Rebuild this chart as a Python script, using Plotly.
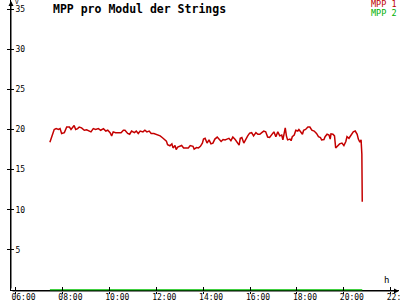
import plotly.graph_objects as go

day = "2024-06-01 "
times = ["07:28","07:34","07:39","07:44","07:50","07:54","07:58","08:05","08:11","08:18",
         "08:22","08:30","08:34","08:39","08:43","08:49","08:56","09:02","09:09","09:13",
         "09:19","09:25","09:32","09:38","09:45","09:51","09:56","10:02","10:06","10:10",
         "10:16","10:23","10:30","10:36","10:40","10:47","10:52","10:57","11:04","11:09",
         "11:14","11:19","11:26","11:31","11:36","11:42","11:47","11:54","12:00","12:05",
         "12:10","12:16","12:21","12:26","12:29","12:35","12:40","12:43","12:48","12:51",
         "12:55","13:00","13:05","13:10","13:17","13:22","13:27","13:34","13:37","13:43",
         "13:48","13:53","13:58","14:01","14:05","14:10","14:15","14:20","14:25","14:30",
         "14:36","14:41","14:46","14:51","14:56","15:01","15:06","15:11","15:16","15:22",
         "15:27","15:32","15:35","15:39","15:44","15:49","15:54","15:59","16:04","16:09",
         "16:15","16:20","16:25","16:30","16:35","16:40","16:45","16:50","16:55","17:01",
         "17:06","17:11","17:16","17:21","17:24","17:28","17:30","17:33","17:36","17:42",
         "17:45","17:48","17:53","17:57","18:02","18:05","18:09","18:14","18:17","18:22",
         "18:28","18:33","18:38","18:44","18:50","18:55","19:00","19:03","19:09","19:12",
         "19:17","19:22","19:25","19:27","19:32","19:36","19:39","19:44","19:49","19:55",
         "20:00","20:05","20:08","20:13","20:18","20:24","20:29","20:34","20:37","20:41",
         "20:44","20:46","20:47"]
mpp1 = [18.4,19.3,20.0,20.1,20.0,20.1,19.5,19.6,20.3,20.3,
        20.0,20.5,20.0,20.1,20.3,20.2,19.9,19.95,19.85,19.7,
        20.1,20.0,20.1,19.9,20.1,19.8,19.9,19.6,19.2,19.7,
        19.6,19.6,19.6,19.9,19.9,19.5,19.4,19.8,19.6,19.8,
        19.5,19.8,19.7,19.9,19.7,19.8,19.5,19.5,19.4,19.3,
        19.2,18.97,18.7,18.55,18.1,17.97,18.2,17.7,18.0,17.5,
        17.8,17.9,18.0,17.7,17.7,17.7,18.0,17.9,17.55,17.75,
        17.7,17.9,18.3,18.8,18.9,18.3,18.7,18.2,18.3,18.8,
        19.05,18.8,18.5,18.75,18.7,18.8,18.9,18.6,19.05,18.75,
        18.4,18.05,18.9,19.0,18.3,18.8,19.2,19.55,19.6,19.2,
        19.6,19.4,19.4,19.6,19.8,19.7,19.05,19.0,19.4,19.7,
        19.1,19.7,19.2,19.3,18.7,20.1,20.2,19.2,18.7,18.8,
        18.6,19.1,19.3,19.9,19.8,20.0,19.7,19.4,19.9,20.0,
        20.3,20.3,19.9,19.8,19.5,19.1,19.0,18.7,18.75,19.1,
        19.4,19.3,18.8,19.45,19.4,19.2,17.7,18.0,18.2,18.3,
        18.0,18.5,19.1,18.9,19.2,19.7,19.8,19.4,18.8,18.4,
        18.7,16.9,11.0]
mpp2 = [0.0 for _ in times]

x_range = [day + "05:48:30", day + "22:21:00"]
y_range = [-0.125, 36.125]
tick_vals = [day + h for h in ["06:00","08:00","10:00","12:00","14:00","16:00","18:00","20:00","22:00"]]
y_ticks = [5, 10, 15, 20, 25, 30, 35]

FONT = "DejaVu Sans Mono"
RED = "#c40000"
GREEN = "#00c000"

xs = [day + t for t in times]

fig = go.Figure()
fig.add_trace(go.Scatter(x=xs, y=mpp2, mode="lines", line=dict(color=GREEN, width=1.5),
                         xaxis="x2", yaxis="y2", showlegend=False, hoverinfo="skip"))
fig.add_trace(go.Scatter(x=xs, y=mpp1, mode="lines", line=dict(color=RED, width=1.5),
                         showlegend=False))

common_x = dict(type="date", range=x_range, tickvals=tick_vals, showgrid=False, zeroline=False,
                automargin=False)
common_y = dict(range=y_range, tickvals=y_ticks, showgrid=False, automargin=False)

fig.update_layout(
    width=400, height=300,
    margin=dict(l=11, r=1, t=0, b=9, autoexpand=False),
    paper_bgcolor="white", plot_bgcolor="white",
    xaxis=dict(**common_x, tickformat="%H:%M", ticks="inside", ticklen=4, tickcolor="black",
               showline=False, ticklabelshift=8, ticklabelstandoff=0,
               ticklabeloverflow="allow",
               tickfont=dict(family=FONT, size=8, color="black")),
    xaxis2=dict(**common_x, overlaying="x", showticklabels=False, ticks="outside", ticklen=2,
                tickcolor="black", showline=False),
    yaxis=dict(**common_y, zeroline=True, zerolinecolor="black", zerolinewidth=1,
               showline=True, linecolor="black", linewidth=1, ticks="outside", ticklen=3,
               tickcolor="black", ticklabelposition="inside", ticklabeloverflow="allow",
               ticklabelstandoff=3,
               tickfont=dict(family=FONT, size=8, color="black")),
    yaxis2=dict(**common_y, overlaying="y", zeroline=False, showticklabels=False,
                ticks="inside", ticklen=3, tickcolor="black", side="left"),
    annotations=[
        dict(text="<b>MPP pro Modul der Strings</b>", xref="paper", yref="paper", x=40/388, y=1.0,
             xanchor="left", yanchor="top", showarrow=False, yshift=0,
             font=dict(family=FONT, size=11.5, color="black")),
        dict(text="MPP 1", xref="paper", yref="paper", x=1.0, y=1.0, xanchor="right", yanchor="top",
             showarrow=False, font=dict(family=FONT, size=8.5, color="#c00000"), yshift=3),
        dict(text="MPP 2", xref="paper", yref="paper", x=1.0, y=1.0, xanchor="right", yanchor="top",
             showarrow=False, font=dict(family=FONT, size=8.5, color="#00b000"), yshift=-6),
        dict(text="V", xref="paper", yref="paper", x=0.0, y=1.0, xanchor="left", yanchor="top",
             showarrow=False, xshift=2, yshift=4, font=dict(family=FONT, size=6, color="black")),
        dict(text="h", xref="paper", yref="paper", x=1.0, y=0.0, xanchor="right", yanchor="bottom",
             showarrow=False, xshift=-8, yshift=4, font=dict(family=FONT, size=9, color="black")),
        dict(text="", xref="paper", yref="paper", x=1.0, y=0.0, ax=-388, ay=0,
             showarrow=True, arrowhead=2, arrowsize=1, arrowwidth=1, arrowcolor="black", standoff=0),
        dict(text="", xref="paper", yref="paper", x=0.0, y=1.0, ax=0, ay=290,
             showarrow=True, arrowhead=2, arrowsize=1, arrowwidth=1, arrowcolor="black", standoff=0),
    ],
)

fig.write_html("out.html")
